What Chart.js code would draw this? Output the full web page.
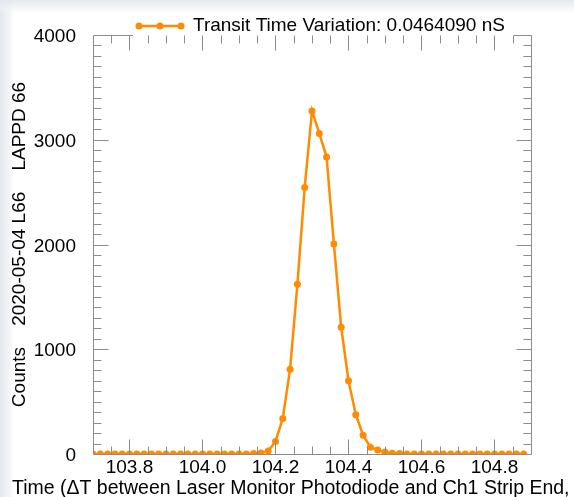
<!DOCTYPE html>
<html>
<head>
<meta charset="utf-8">
<script src="https://cdn.jsdelivr.net/npm/chart.js@4.4.1/dist/chart.umd.min.js"></script>
<style>
html, body { margin: 0; padding: 0; }
body {
    width: 574px; height: 497px; overflow: hidden;
    background:
        linear-gradient(to bottom, rgba(226,231,237,0.9) 0px, rgba(240,243,246,0.6) 9px, rgba(255,255,255,0) 13px),
        linear-gradient(to right, #e2e7ec 0px, #f2f4f7 9px, #ffffff 14px);
}
#wrap { position: absolute; left: 0; top: 0; width: 574px; height: 497px; }
</style>
</head>
<body>
<div id="wrap"><canvas id="chart" width="574" height="497"></canvas></div>
<script>
// Histogram bins (nS) and counts
const timeBins = [
    103.70, 103.72, 103.74, 103.76, 103.78, 103.80, 103.82, 103.84, 103.86, 103.88,
    103.90, 103.92, 103.94, 103.96, 103.98, 104.00, 104.02, 104.04, 104.06, 104.08,
    104.10, 104.12, 104.14, 104.16, 104.18, 104.20, 104.22, 104.24, 104.26, 104.28,
    104.30, 104.32, 104.34, 104.36, 104.38, 104.40, 104.42, 104.44, 104.46, 104.48,
    104.50, 104.52, 104.54, 104.56, 104.58, 104.60, 104.62, 104.64, 104.66, 104.68,
    104.70, 104.72, 104.74, 104.76, 104.78, 104.80, 104.82, 104.84, 104.86, 104.88
];
const counts = [
    0, 0, 0, 0, 0, 0, 0, 0, 0, 0,
    0, 0, 0, 0, 0, 0, 0, 0, 0, 0,
    0, 0, 5, 10, 28, 120, 340, 810, 1620, 2545,
    3275, 3060, 2835, 2005, 1210, 700, 375, 180, 65, 38,
    18, 8, 4, 0, 0, 0, 0, 0, 0, 0,
    0, 0, 0, 0, 0, 0, 0, 0, 0, 0
];
const xTickValues = [103.8, 104.0, 104.2, 104.4, 104.6, 104.8];
const yTickValues = [0, 1000, 2000, 3000, 4000];

const seriesLabel = 'Transit Time Variation: 0.0464090 nS';
const xTitle = 'Time (\u0394T between Laser Monitor Photodiode and Ch1 Strip End, nS)';
const yTitle = 'Counts    2020-05-04 L66    LAPPD 66';

const orange = '#ff8c00';
const axisGray = '#8c8c8c';
const fontFamily = '"Liberation Sans", Arial, Helvetica, sans-serif';

// IDL style box with inward ticks, the legend and the x title
const idlAxes = {
    id: 'idlAxes',
    afterDatasetsDraw(chart) {
        const { ctx, chartArea: a, scales: { x, y } } = chart;
        const px = v => Math.round(v) + 0.5;
        const L = px(a.left), R = px(a.right), T = px(a.top), B = px(a.bottom);

        ctx.save();
        ctx.strokeStyle = axisGray;
        ctx.lineWidth = 1;
        ctx.beginPath();
        // frame, the top edge is hidden behind the legend
        ctx.moveTo(L, T); ctx.lineTo(L, B); ctx.lineTo(R, B); ctx.lineTo(R, T);
        ctx.moveTo(L, T); ctx.lineTo(133, T);
        ctx.moveTo(514, T); ctx.lineTo(R, T);

        // x ticks: minor every 0.05, major every 0.2
        for (let v = Math.ceil(x.min / 0.05) * 0.05; v < x.max - 1e-6; v += 0.05) {
            const xp = px(x.getPixelForValue(v));
            if (xp <= L || xp >= R) continue;
            const major = xTickValues.some(t => Math.abs(t - v) < 1e-6);
            const len = major ? 15 : 8;
            ctx.moveTo(xp, B); ctx.lineTo(xp, B - len);
            ctx.moveTo(xp, T); ctx.lineTo(xp, T + len);
        }
        // y ticks: minor every 100, major every 1000
        for (let v = 100; v < y.max; v += 100) {
            const yp = px(y.getPixelForValue(v));
            const major = yTickValues.includes(v);
            const len = major ? 15 : 8;
            ctx.moveTo(L, yp); ctx.lineTo(L + len, yp);
            ctx.moveTo(R, yp); ctx.lineTo(R - len, yp);
        }
        ctx.stroke();

        // legend: line with three points, then the label
        const ly = 26;
        ctx.strokeStyle = orange;
        ctx.fillStyle = orange;
        ctx.lineWidth = 2.5;
        ctx.beginPath();
        ctx.moveTo(139, ly); ctx.lineTo(181, ly);
        ctx.stroke();
        [139, 160, 181].forEach(cx => {
            ctx.beginPath();
            ctx.arc(cx, ly, 3.5, 0, Math.PI * 2);
            ctx.fill();
        });
        ctx.fillStyle = '#000';
        ctx.font = '19px ' + fontFamily;
        ctx.textBaseline = 'middle';
        ctx.textAlign = 'left';
        ctx.fillText(seriesLabel, 193, ly);

        // x axis title, starts near the left edge and runs off the right side
        ctx.textBaseline = 'alphabetic';
        ctx.font = '19.5px ' + fontFamily;
        ctx.fillText(xTitle, 12, 494);
        ctx.restore();
    }
};

const ctx = document.getElementById('chart').getContext('2d');
new Chart(ctx, {
    type: 'line',
    data: {
        datasets: [{
            label: seriesLabel,
            data: timeBins.map((t, i) => ({ x: t, y: counts[i] })),
            borderColor: orange,
            backgroundColor: orange,
            borderWidth: 2.5,
            pointRadius: 3.5,
            pointHoverRadius: 3.5,
            pointBorderWidth: 0,
            tension: 0,
            clip: 0
        }]
    },
    options: {
        responsive: false,
        animation: false,
        events: [],
        layout: { padding: { top: 35, right: 43, left: 0, bottom: 0 } },
        plugins: {
            legend: { display: false },
            tooltip: { enabled: false }
        },
        scales: {
            x: {
                type: 'linear',
                min: 103.7,
                max: 104.9,
                grid: { display: false },
                border: { display: false },
                afterBuildTicks: s => { s.ticks = xTickValues.map(v => ({ value: v })); },
                afterFit: s => { s.height = 43; },
                ticks: {
                    padding: -6,
                    color: '#000',
                    maxRotation: 0,
                    autoSkip: false,
                    font: { family: fontFamily, size: 19 },
                    callback: v => Number(v).toFixed(1)
                }
            },
            y: {
                min: 0,
                max: 4000,
                grid: { display: false },
                border: { display: false },
                afterBuildTicks: s => { s.ticks = yTickValues.map(v => ({ value: v })); },
                afterFit: s => { s.width = 93; },
                ticks: {
                    padding: 9,
                    labelOffset: 2,
                    color: '#000',
                    font: { family: fontFamily, size: 19 },
                    callback: v => String(v)
                },
                title: {
                    display: true,
                    text: yTitle,
                    color: '#000',
                    font: { family: fontFamily, size: 19 },
                    padding: { top: 8, bottom: 0 }
                }
            }
        }
    },
    plugins: [idlAxes]
});
</script>
</body>
</html>
